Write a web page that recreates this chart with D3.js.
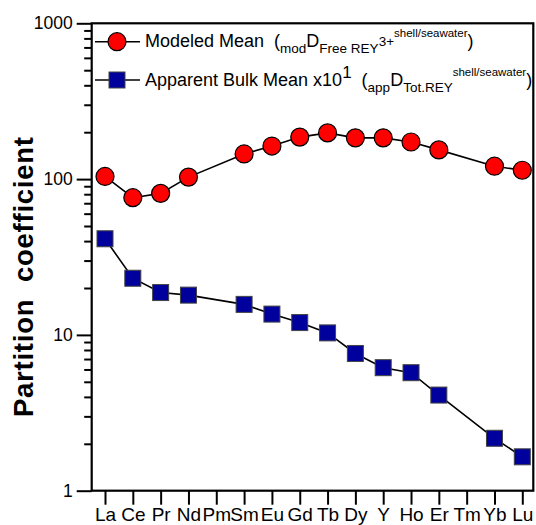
<!DOCTYPE html>
<html>
<head>
<meta charset="utf-8">
<script src="https://cdn.jsdelivr.net/npm/d3@7"></script>
<style>
  html, body { margin: 0; padding: 0; background: #fff; }
  svg { display: block; font-family: "Liberation Sans", Arial, sans-serif; }
</style>
</head>
<body>
<svg id="chart" width="536" height="525"></svg>
<script>
// Rare earth elements + yttrium along the x axis
const elements = ["La","Ce","Pr","Nd","Pm","Sm","Eu","Gd","Tb","Dy","Y","Ho","Er","Tm","Yb","Lu"];

// Modeled mean partition coefficient (null where not determined)
const modeledMean = [104, 76, 81, 103, null, 145, 163, 186, 198, 184, 184, 173, 154, null, 121, 114];

// Apparent bulk mean partition coefficient, scaled x10
const apparentBulkMean = [41.4, 23.1, 18.7, 18.0, null, 15.7, 13.6, 12.0, 10.3, 7.6, 6.16, 5.72, 4.11, null, 2.17, 1.65];

// Axis ticks
const majorTicks = [1, 10, 100, 1000];
const minorTicks = [2,3,4,5,6,7,8,9, 20,30,40,50,60,70,80,90, 200,300,400,500,600,700,800,900];

const svg = d3.select("#chart");
const frame = { left: 91.7, right: 533.3, top: 23.3, bottom: 490.7 };

const x = d3.scalePoint().domain(elements).range([105, 522.3]);
const y = d3.scaleLog().domain([1, 1000]).range([frame.bottom, frame.top]);

// Y axis: major and minor ticks pointing outward
const yMajor = svg.append("g")
  .attr("transform", `translate(${frame.left},0)`)
  .call(d3.axisLeft(y).tickValues(majorTicks).tickSize(15).tickPadding(4).tickFormat(d3.format("d")));
const yMinor = svg.append("g")
  .attr("transform", `translate(${frame.left},0)`)
  .call(d3.axisLeft(y).tickValues(minorTicks).tickSize(7.5).tickFormat(""));

// X axis: ticks hang below the frame
const xAxis = svg.append("g")
  .attr("transform", `translate(0,${frame.bottom})`)
  .call(d3.axisBottom(x).tickSize(14).tickPadding(3));

[yMajor, yMinor, xAxis].forEach(g => {
  g.select(".domain").remove();
  g.selectAll(".tick line").attr("stroke", "#000").attr("stroke-width", 2);
  g.selectAll(".tick text").attr("fill", "#000").style("font-size", "17.5px")
    .style("font-family", "\"Liberation Sans\", Arial, sans-serif");
});
xAxis.selectAll(".tick text").style("font-size", "19px");

// Plot frame
svg.append("rect")
  .attr("x", frame.left).attr("y", frame.top)
  .attr("width", frame.right - frame.left).attr("height", frame.bottom - frame.top)
  .attr("fill", "none").attr("stroke", "#000").attr("stroke-width", 2.2);

// Y axis title
svg.append("text")
  .attr("transform", "translate(33,277) rotate(-90)")
  .attr("text-anchor", "middle")
  .style("font-size", "27.5px").style("font-weight", "bold")
  .style("white-space", "pre")
  .attr("textLength", 280).attr("lengthAdjust", "spacing")
  .text("Partition  coefficient");

// Series
const seriesList = [
  { values: modeledMean, shape: "circle" },
  { values: apparentBulkMean, shape: "square" }
];

const line = d3.line().x(d => x(d.el)).y(d => y(d.v));

seriesList.forEach(s => {
  const pts = elements.map((el, i) => ({ el, v: s.values[i] })).filter(d => d.v != null);
  svg.append("path").datum(pts)
    .attr("d", line).attr("fill", "none").attr("stroke", "#000").attr("stroke-width", 1.6);
  if (s.shape === "circle") {
    svg.append("g").selectAll("circle").data(pts).join("circle")
      .attr("cx", d => x(d.el)).attr("cy", d => y(d.v)).attr("r", 9)
      .attr("fill", "#ff0000").attr("stroke", "#000").attr("stroke-width", 1.2);
  } else {
    svg.append("g").selectAll("rect").data(pts).join("rect")
      .attr("x", d => x(d.el) - 8).attr("y", d => y(d.v) - 8)
      .attr("width", 16).attr("height", 16)
      .attr("fill", "#00009c").attr("stroke", "#444").attr("stroke-width", 1);
  }
});

// Legend
const legend = svg.append("g");
const rowY = [41.7, 80];
legend.append("line").attr("x1", 95).attr("x2", 140).attr("y1", rowY[0]).attr("y2", rowY[0])
  .attr("stroke", "#000").attr("stroke-width", 1.6);
legend.append("circle").attr("cx", 117).attr("cy", rowY[0]).attr("r", 9)
  .attr("fill", "#ff0000").attr("stroke", "#000").attr("stroke-width", 1.2);
legend.append("line").attr("x1", 95).attr("x2", 140).attr("y1", rowY[1]).attr("y2", rowY[1])
  .attr("stroke", "#000").attr("stroke-width", 1.6);
legend.append("rect").attr("x", 109).attr("y", rowY[1] - 8).attr("width", 16).attr("height", 16)
  .attr("fill", "#00009c").attr("stroke", "#444").attr("stroke-width", 1);

function addRich(parts, x0, baseline) {
  const t = legend.append("text").attr("x", x0).attr("y", baseline).style("white-space", "pre");
  parts.forEach(p => {
    t.append("tspan")
      .attr("y", baseline + (p.dy || 0))
      .style("font-size", (p.size || 18) + "px")
      .text(p.t);
  });
}

addRich([
  { t: "Modeled Mean  (" },
  { t: "mod", size: 13.5, dy: 6 },
  { t: "D" },
  { t: "Free REY", size: 13.5, dy: 6 },
  { t: "3+", size: 13.5, dy: -1 },
  { t: "shell/seawater", size: 11.5, dy: -10 },
  { t: ")" }
], 145, 47);

addRich([
  { t: "Apparent Bulk Mean x10" },
  { t: "1", size: 17, dy: -8 },
  { t: "  (" },
  { t: "app", size: 13.5, dy: 6 },
  { t: "D" },
  { t: "Tot.REY", size: 13.5, dy: 6 },
  { t: "shell/seawater", size: 11.5, dy: -10 },
  { t: ")" }
], 145, 86);
</script>
</body>
</html>
